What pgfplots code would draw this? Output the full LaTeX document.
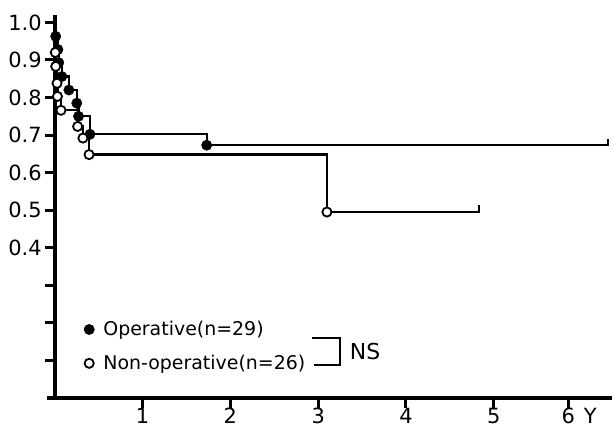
\documentclass[border=0pt]{standalone}
\usepackage{pgfplots}
\pgfplotsset{compat=1.18}
\usepackage{fontspec}
\setmainfont{DejaVu Sans}

% Kaplan-Meier survival: operative vs non-operative
\pgfplotstableread{
x      y
0      1.0
0.010  0.963
0.035  0.928
0.045  0.893
0.080  0.856
0.160  0.820
0.250  0.785
0.270  0.750
0.400  0.702
1.730  0.673
6.300  0.673
6.300  0.690
}\operative

\pgfplotstableread{
x      y
0.010  0.963
0.035  0.928
0.045  0.893
0.080  0.856
0.160  0.820
0.250  0.785
0.270  0.750
0.400  0.702
1.730  0.673
}\operativemarks

\pgfplotstableread{
x      y
0      1.0
0.005  0.920
0.010  0.883
0.025  0.838
0.030  0.803
0.070  0.766
0.260  0.723
0.320  0.692
0.390  0.648
3.100  0.495
4.830  0.495
4.830  0.515
}\nonop

\pgfplotstableread{
x      y
0.005  0.920
0.010  0.883
0.025  0.838
0.030  0.803
0.070  0.766
0.260  0.723
0.320  0.692
0.390  0.648
3.100  0.495
}\nonopmarks

\begin{document}
\begin{tikzpicture}
\begin{axis}[
  scale only axis,
  width=559pt, height=384pt,
  xmin=0, xmax=6.35,
  ymin=0, ymax=1.02,
  axis x line=bottom, axis y line=left,
  axis line style={-, line width=3.6pt},
  tick align=outside,
  major tick length=10pt,
  tick style={line width=3pt, black},
  xtick={1,2,3,4,5,5.85},
  xticklabels={1,2,3,4,5,6},
  ytick={0.1,0.2,0.3,0.4,0.5,0.6,0.7,0.8,0.9,1.0},
  yticklabels={{},{},{},0.4,0.5,0.6,0.7,0.8,0.9,1.0},
  /pgf/number format/assume math mode=true,
  ticklabel style={font=\fontsize{21}{23}\selectfont, inner sep=0pt},
  xticklabel style={yshift=0pt},
  yticklabel style={xshift=-3pt},
  clip=false,
  legend style={at={(rel axis cs:0.052,0.205)}, anchor=north west,
    draw=none, fill=none, font=\fontsize{19}{21}\selectfont,
    row sep=14pt, inner sep=0pt,
    /tikz/every odd column/.append style={column sep=7pt}},
  legend cell align=left,
]
\addplot[const plot, line width=2.2pt, black, forget plot] table[x=x,y=y] {\operative};
\addplot[const plot, line width=2.2pt, black, forget plot] table[x=x,y=y] {\nonop};
\addplot[only marks, mark=*, mark size=5.2pt, black] table[x=x,y=y] {\operativemarks};
\addlegendentry{Operative(n=29)}
\addplot[only marks, mark=*, mark size=4.6pt, black, line width=1.8pt,
  mark options={fill=white}] table[x=x,y=y] {\nonopmarks};
\addlegendentry{Non-operative(n=26)}

% bracket joining the two groups
\draw[line width=1.6pt] (axis cs:2.93,0.160) -- (axis cs:3.25,0.160)
  -- (axis cs:3.25,0.088) -- (axis cs:2.95,0.088);
\node[anchor=west, font=\fontsize{22}{24}\selectfont, inner sep=0pt]
  at (axis cs:3.36,0.124) {NS};
% unit of the time axis
\node[anchor=north, font=\fontsize{21}{23}\selectfont, inner sep=0pt]
  at (axis cs:6.10,0) [yshift=-10pt] {Y};
% short stub of the time axis to the left of the origin
\draw[line width=3.6pt] (axis cs:0,0) -- ++(-8pt,0);
% margins around the plot
\path (rel axis cs:0,1) ++(-55pt,15pt);
\path (rel axis cs:0,0) ++(0,-31pt);
\end{axis}
\end{tikzpicture}
\end{document}
